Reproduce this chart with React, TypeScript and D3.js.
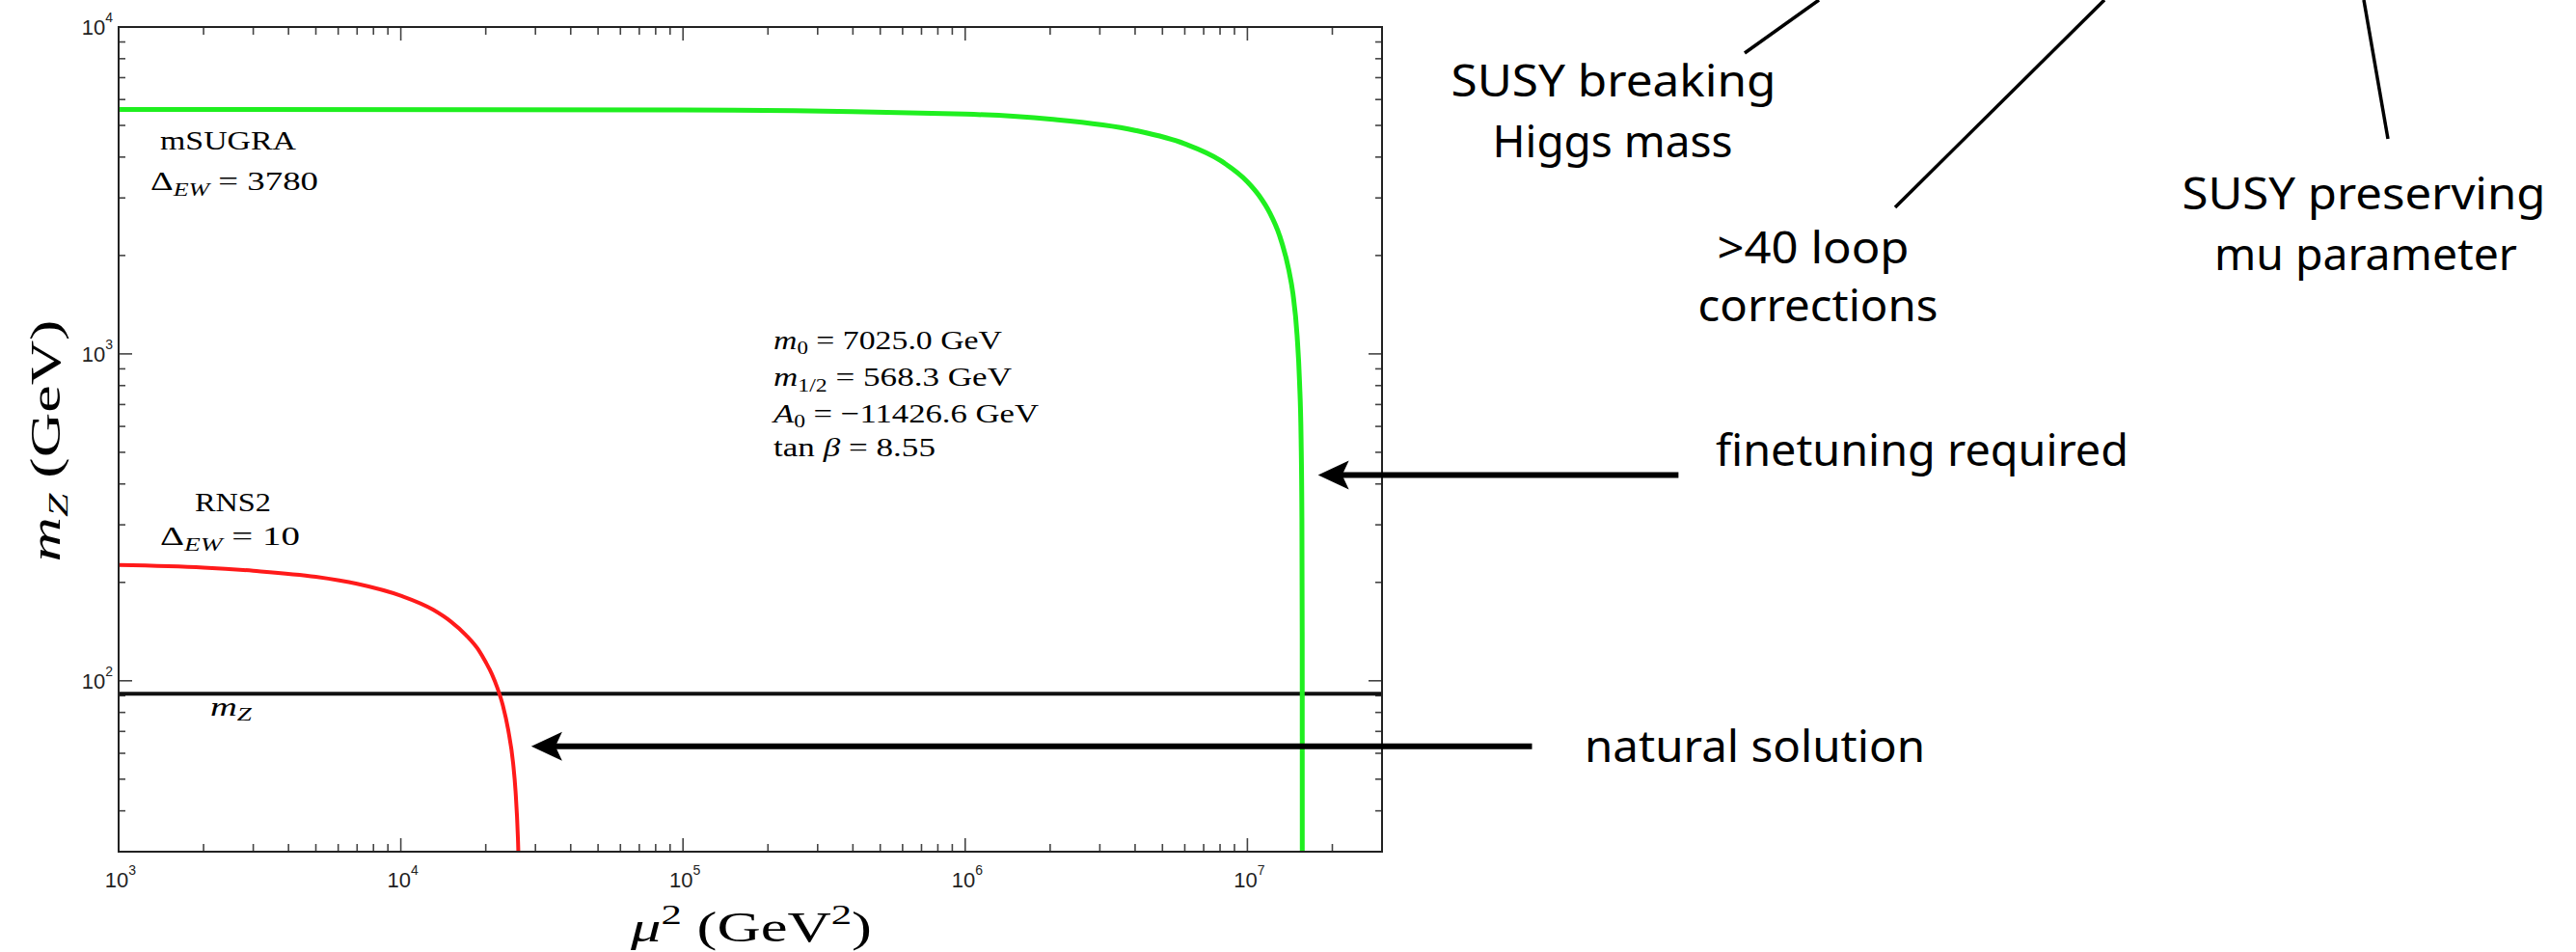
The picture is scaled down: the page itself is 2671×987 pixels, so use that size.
import React, { useEffect } from 'react';
import * as d3 from 'd3';

// ---------- data ----------
const X_DOMAIN: [number, number] = [1e3, 3e7];
const Y_DOMAIN: [number, number] = [30, 1e4];
const X_MAJOR_EXP = [3, 4, 5, 6, 7];
const Y_MAJOR_EXP = [2, 3, 4];

// RNS2 (Delta_EW = 10), red curve
const RNS2_MU2 = [1000, 2000, 3000, 5000, 7000, 10000, 13000, 15000, 17000, 19000, 20000, 21000, 22000, 23000, 24000, 25000, 25500, 26000, 26150, 26250];
const RNS2_MZ = [226, 222, 217, 208, 198, 182, 165, 152, 138, 123, 114, 105, 95, 84, 71, 56, 46, 33, 28, 24];

// mSUGRA (Delta_EW = 3780), green curve
const MSUGRA_MU2 = [1e3, 1e5, 1e6, 2e6, 4e6, 6e6, 8e6, 1e7, 1.1e7, 1.2e7, 1.3e7, 1.4e7, 1.45e7, 1.5e7, 1.53e7, 1.55e7, 1.56e7, 1.564e7, 1.5645e7, 1.5649e7, 1.56497e7];
const MSUGRA_MZ = [5594, 5577, 5413, 5225, 4827, 4393, 3912, 3362, 3051, 2702, 2302, 1817, 1530, 1140, 825, 548, 316, 141, 100, 30, 25];

const MZ_VALUE = 91.19;

// arrows (data coords: tip and tail)
const ARROW_FINETUNE = { tip: [1.78e7, 426], tail: [3.37e8, 426] };
const ARROW_NATURAL = { tip: [2.9e4, 63], tail: [1.02e8, 63] };

// ---------- layout ----------
const W = 2671;
const H = 987;
const L = 123, R = 1433, T = 28, B = 883;

const SERIF = '"Liberation Serif", "DejaVu Serif", serif';
const SANS = '"Liberation Sans", Arial, sans-serif';
const HAND = '"Noto Sans", "Open Sans", sans-serif';

function Arrow({ spec, x, y }: any) {
  const tx = x(spec.tip[0]);
  const ty = y(spec.tip[1]);
  const ex = x(spec.tail[0]);
  const len = 32, half = 15;
  const head = `M${tx},${ty} L${tx + len},${ty - half} L${tx + len * 0.78},${ty} L${tx + len},${ty + half} Z`;
  return (
    <g>
      <line x1={tx + len * 0.7} y1={ty} x2={ex} y2={ty} stroke="#000" strokeWidth={6} />
      <path d={head} fill="#000" />
    </g>
  );
}

export default function App() {
  useEffect(() => {
    document.body.style.margin = '0';
  }, []);

  const x = d3.scaleLog().domain(X_DOMAIN).range([L, R]);
  const y = d3.scaleLog().domain(Y_DOMAIN).range([B, T]);

  const line = d3
    .line<[number, number]>()
    .x((d) => x(d[0]))
    .y((d) => y(d[1]))
    .curve(d3.curveMonotoneX);

  const red = RNS2_MU2.map((v, i) => [v, RNS2_MZ[i]] as [number, number]);
  const green = MSUGRA_MU2.map((v, i) => [v, MSUGRA_MZ[i]] as [number, number]);

  const xTicks = x.ticks();
  const yTicks = y.ticks();
  const isMajor = (v: number) => Math.abs(Math.log10(v) - Math.round(Math.log10(v))) < 1e-9;

  const tickColor = '#444';

  return (
    <svg width={W} height={H} viewBox={`0 0 ${W} ${H}`} style={{ position: 'absolute', left: 0, top: 0, background: '#fff' }}>
      <rect x={0} y={0} width={W} height={H} fill="#fff" />
      <defs>
        <clipPath id="plotclip">
          <rect x={L} y={T} width={R - L} height={B - T} />
        </clipPath>
      </defs>

      {/* ticks: bottom & top */}
      {xTicks.map((v, i) => {
        const px = x(v);
        const len = isMajor(v) ? 14 : 8;
        return (
          <g key={'xt' + i}>
            <line x1={px} x2={px} y1={B} y2={B - len} stroke={tickColor} strokeWidth={1.6} />
            <line x1={px} x2={px} y1={T} y2={T + len} stroke={tickColor} strokeWidth={1.6} />
          </g>
        );
      })}
      {yTicks.map((v, i) => {
        const py = y(v);
        const len = isMajor(v) ? 14 : 7;
        return (
          <g key={'yt' + i}>
            <line x1={L} x2={L + len} y1={py} y2={py} stroke={tickColor} strokeWidth={1.6} />
            <line x1={R} x2={R - len} y1={py} y2={py} stroke={tickColor} strokeWidth={1.6} />
          </g>
        );
      })}

      {/* curves */}
      <g clipPath="url(#plotclip)">
        <line x1={L} x2={R} y1={y(MZ_VALUE)} y2={y(MZ_VALUE)} stroke="#111" strokeWidth={4} />
        <path d={line(green) || ''} fill="none" stroke="#1fef1f" strokeWidth={5} />
        <path d={line(red) || ''} fill="none" stroke="#ff1a1a" strokeWidth={4} />
      </g>

      {/* frame */}
      <rect x={L} y={T} width={R - L} height={B - T} fill="none" stroke="#222" strokeWidth={2} />

      {/* tick labels */}
      {X_MAJOR_EXP.map((e) => (
        <text key={'xl' + e} x={x(Math.pow(10, e)) + 2} y={920} textAnchor="middle" fontFamily={SANS} fontSize={22} fill="#222">
          10<tspan fontSize={14} dy={-13}>{e}</tspan>
        </text>
      ))}
      {Y_MAJOR_EXP.map((e) => (
        <text key={'yl' + e} x={117} y={y(Math.pow(10, e)) + 8} textAnchor="end" fontFamily={SANS} fontSize={22} fill="#222">
          10<tspan fontSize={14} dy={-13}>{e}</tspan>
        </text>
      ))}

      {/* axis titles */}
      <text x={654} y={976} fontFamily={SERIF} fontSize={44} textLength={250} lengthAdjust="spacingAndGlyphs" fill="#000">
        <tspan fontStyle="italic">μ</tspan>
        <tspan fontSize={30} dy={-18}>2</tspan>
        <tspan dy={18}> (GeV</tspan>
        <tspan fontSize={30} dy={-18}>2</tspan>
        <tspan dy={18}>)</tspan>
      </text>
      <text transform="translate(62,457) rotate(-90)" textAnchor="middle" fontFamily={SERIF} fontSize={44} textLength={251} lengthAdjust="spacingAndGlyphs" fill="#000">
        <tspan fontStyle="italic">m</tspan>
        <tspan fontStyle="italic" fontSize={30} dy={8}>Z</tspan>
        <tspan dy={-8}> (GeV)</tspan>
      </text>

      {/* in-plot labels */}
      <text x={166} y={155} fontFamily={SERIF} fontSize={27} textLength={141} lengthAdjust="spacingAndGlyphs">mSUGRA</text>
      <text x={156} y={197} fontFamily={SERIF} fontSize={27} textLength={174} lengthAdjust="spacingAndGlyphs">
        Δ<tspan fontStyle="italic" fontSize={19} dy={6}>EW</tspan><tspan dy={-6}> = 3780</tspan>
      </text>
      <text x={202} y={530} fontFamily={SERIF} fontSize={27} textLength={79} lengthAdjust="spacingAndGlyphs">RNS2</text>
      <text x={166} y={565} fontFamily={SERIF} fontSize={27} textLength={145} lengthAdjust="spacingAndGlyphs">
        Δ<tspan fontStyle="italic" fontSize={19} dy={6}>EW</tspan><tspan dy={-6}> = 10</tspan>
      </text>
      <text x={218} y={742} fontFamily={SERIF} fontSize={27} textLength={43} lengthAdjust="spacingAndGlyphs">
        <tspan fontStyle="italic">m</tspan><tspan fontStyle="italic" fontSize={19} dy={5}>Z</tspan>
      </text>

      <g fontFamily={SERIF} fontSize={28} fill="#000">
        <text x={802} y={362} textLength={237} lengthAdjust="spacingAndGlyphs">
          <tspan fontStyle="italic">m</tspan><tspan fontSize={19} dy={5}>0</tspan><tspan dy={-5}> = 7025.0 GeV</tspan>
        </text>
        <text x={802} y={400} textLength={247} lengthAdjust="spacingAndGlyphs">
          <tspan fontStyle="italic">m</tspan><tspan fontSize={19} dy={6}>1/2</tspan><tspan dy={-6}> = 568.3 GeV</tspan>
        </text>
        <text x={802} y={438} textLength={275} lengthAdjust="spacingAndGlyphs">
          <tspan fontStyle="italic">A</tspan><tspan fontSize={19} dy={5}>0</tspan><tspan dy={-5}> = −11426.6 GeV</tspan>
        </text>
        <text x={802} y={473} textLength={168} lengthAdjust="spacingAndGlyphs">
          tan <tspan fontStyle="italic">β</tspan> = 8.55
        </text>
      </g>

      {/* arrows */}
      <Arrow spec={ARROW_FINETUNE} x={x} y={y} />
      <Arrow spec={ARROW_NATURAL} x={x} y={y} />

      {/* annotation pointer lines from the (cropped) equation above */}
      <g stroke="#000" strokeWidth={3.5}>
        <line x1={1886} y1={0} x2={1809} y2={55} />
        <line x1={2182} y1={0} x2={1965} y2={215} />
        <line x1={2451} y1={0} x2={2476} y2={144} />
      </g>

      {/* annotation texts */}
      <g fontFamily={HAND} fontSize={45} fill="#000" textAnchor="middle">
        <text x={1673} y={100} textLength={337} lengthAdjust="spacingAndGlyphs">SUSY breaking</text>
        <text x={1672} y={163} textLength={249} lengthAdjust="spacingAndGlyphs">Higgs mass</text>
        <text x={1880} y={273} textLength={199} lengthAdjust="spacingAndGlyphs">&gt;40 loop</text>
        <text x={1885} y={333} textLength={249} lengthAdjust="spacingAndGlyphs">corrections</text>
        <text x={2451} y={217} textLength={377} lengthAdjust="spacingAndGlyphs">SUSY preserving</text>
        <text x={2453} y={280} textLength={314} lengthAdjust="spacingAndGlyphs">mu parameter</text>
      </g>
      <g fontFamily={HAND} fontSize={45} fill="#000">
        <text x={1779} y={483} textLength={428} lengthAdjust="spacingAndGlyphs">finetuning required</text>
        <text x={1643} y={790} textLength={353} lengthAdjust="spacingAndGlyphs">natural solution</text>
      </g>
    </svg>
  );
}
